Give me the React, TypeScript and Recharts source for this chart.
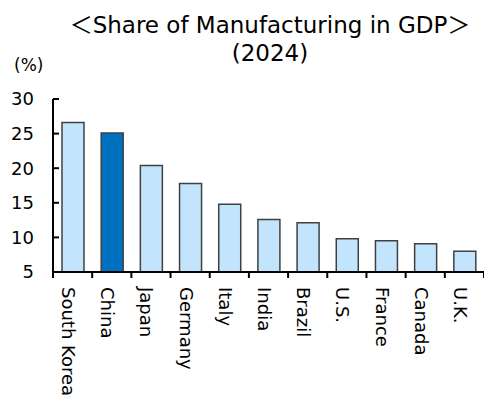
import React from "react";
import { BarChart, Bar, XAxis, YAxis, Cell } from "recharts";

const countries = [
  "South Korea",
  "China",
  "Japan",
  "Germany",
  "Italy",
  "India",
  "Brazil",
  "U.S.",
  "France",
  "Canada",
  "U.K.",
];
const shares = [26.6, 25.1, 20.4, 17.8, 14.8, 12.6, 12.1, 9.8, 9.5, 9.1, 8.0];
const yTicks = [5, 10, 15, 20, 25, 30];
const highlight = "China";

const data = countries.map((name, i) => ({ name, value: shares[i] }));

const FONT = "'DejaVu Sans', 'Noto Sans CJK JP', sans-serif";

const YTick = ({ x, y, payload }: any) => (
  <g>
    <line x1={x} x2={x + 6} y1={y} y2={y} stroke="#000" strokeWidth={2} />
    <text
      x={x - 19}
      y={y}
      dy="0.36em"
      textAnchor="end"
      fontSize={18}
      fontFamily={FONT}
      fill="#000"
    >
      {payload.value}
    </text>
  </g>
);

const XTick = ({ x, y, payload, index }: any) => {
  const half = payload.offset ?? 19.6;
  return (
    <g>
      <line x1={x - half} x2={x - half} y1={y} y2={y + 6} stroke="#000" strokeWidth={2} />
      {index === countries.length - 1 && (
        <line x1={x + half} x2={x + half} y1={y} y2={y + 6} stroke="#000" strokeWidth={2} />
      )}
      <g transform={`translate(${x - 10.5}, ${y + 15}) rotate(90)`}>
        <text x={0} y={0} textAnchor="start" fontSize={18} fontFamily={FONT} fill="#000">
          {payload.value}
        </text>
      </g>
    </g>
  );
};

export default function App() {
  return (
    <div style={{ position: "absolute", left: 0, top: 0, width: 484, height: 403, background: "#fff" }}>
      <BarChart
        width={484}
        height={403}
        data={data}
        margin={{ top: 99, right: 0, bottom: 0, left: 0 }}
        barSize={22}
      >
        <XAxis
          dataKey="name"
          height={131}
          interval={0}
          tickSize={0}
          tickMargin={0}
          tickLine={false}
          axisLine={{ stroke: "#000", strokeWidth: 2 }}
          tick={<XTick />}
        />
        <YAxis
          width={53}
          domain={[5, 30]}
          ticks={yTicks}
          interval={0}
          tickSize={0}
          tickMargin={0}
          tickLine={false}
          axisLine={{ stroke: "#000", strokeWidth: 2 }}
          tick={<YTick />}
        />
        <Bar dataKey="value" stroke="#404040" strokeWidth={1.5} isAnimationActive={false}>
          {data.map((d) => (
            <Cell key={d.name} fill={d.name === highlight ? "#0070C0" : "#C2E5FD"} />
          ))}
        </Bar>
      </BarChart>
      <svg
        width={484}
        height={90}
        style={{ position: "absolute", left: 0, top: 0, pointerEvents: "none" }}
      >
        <text x={270} y={33} textAnchor="middle" fontSize={23} fontFamily={FONT} fill="#000">
          ＜Share of Manufacturing in GDP＞
        </text>
        <text x={270} y={61} textAnchor="middle" fontSize={23} fontFamily={FONT} fill="#000">
          (2024)
        </text>
        <text x={14} y={71} fontSize={17} fontFamily={FONT} fill="#000">
          (%)
        </text>
      </svg>
    </div>
  );
}
